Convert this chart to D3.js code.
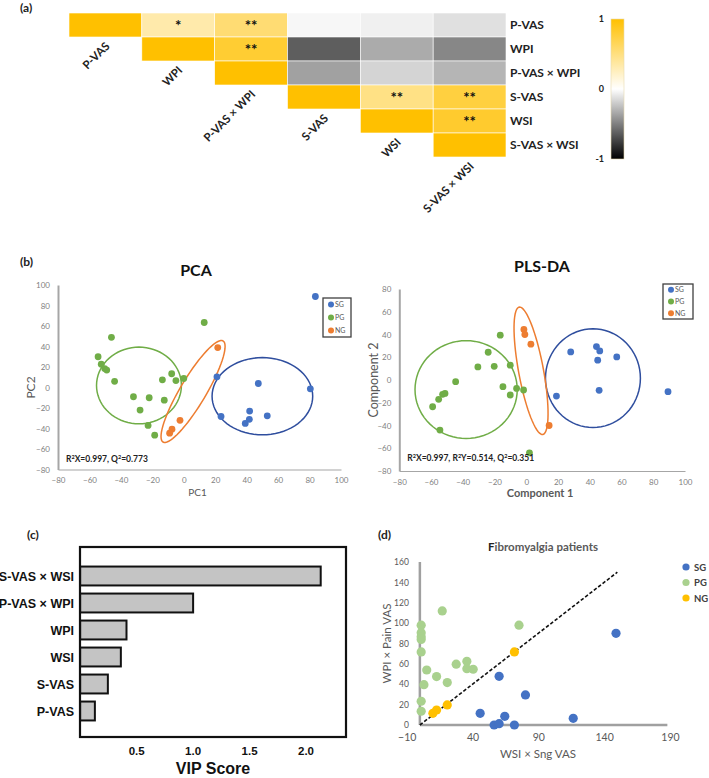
<!DOCTYPE html>
<html>
<head>
<meta charset="utf-8">
<script src="https://cdn.jsdelivr.net/npm/d3@7"></script>
<style>
  body { margin: 0; background: #fff; }
  svg { display: block; }
</style>
</head>
<body>
<div id="fig"></div>
<script>
// ---------- data ----------
var vars = ["P-VAS", "WPI", "P-VAS × WPI", "S-VAS", "WSI", "S-VAS × WSI"];
// upper triangle of correlation matrix (null = not drawn)
var corr = [
    [1, 0.33, 0.55, -0.03, -0.06, -0.12],
    [null, 1, 0.8, -0.63, -0.33, -0.47],
    [null, null, 1, -0.37, -0.17, -0.29],
    [null, null, null, 1, 0.48, 0.75],
    [null, null, null, null, 1, 0.82],
    [null, null, null, null, null, 1]
];
var stars = [
    ["", "*", "**", "", "", ""],
    ["", "", "**", "", "", ""],
    ["", "", "", "", "", ""],
    ["", "", "", "", "**", "**"],
    ["", "", "", "", "", "**"],
    ["", "", "", "", "", ""]
];

var groups = ["SG", "PG", "NG"];

var pcaSG = [[83.7, 88.8], [21.1, 10.4], [47.4, 3.9], [80.5, -1.3], [23.7, -28.3], [41.9, -23], [41.7, -31], [39.1, -35], [53.1, -27.6]];
var pcaPG = [[-46, 49], [-54.5, 30], [-52.5, 22.7], [-50.3, 18.5], [-49, 17], [-44, 6], [-32, -9], [-27.8, -22], [-22, -10], [-22.7, -37], [-18.5, -46.5], [-13.6, 7.5], [-12.4, -12.4], [-7.7, 13.4], [-5, 6.8], [0, 8.8], [13, 63.4]];
var pcaNG = [[21.6, 39], [-2.4, -32], [-7.5, -40.7], [-9, -44.6]];
// ellipses: centre + two half-axis vectors, in data units
var pcaEllipses = [
    {g: "SG", cx: 50, cy: -8.5, ux: 32, uy: 0, vx: 0, vy: 37.7},
    {g: "PG", cx: -28.5, cy: 2, ux: 27, uy: 0, vx: 0, vy: 37.4},
    {g: "NG", cx: 5.9, cy: -3.9, ux: 19.1, uy: 49.3, vx: 7.1, vy: -6.4}
];

var plsSG = [[28, 24.7], [44.2, 29.4], [46.3, 25.6], [45, 17.4], [57, 20.3], [45.9, -9.1], [19, -14.1], [89.3, -10.3]];
var plsPG = [[-16.4, 39.4], [-24, 24.4], [-30.5, 11.5], [-20.2, 12], [-10.1, 13], [-44.5, -1.5], [-14.7, -5.9], [-6.1, -7.4], [-1.7, -8.8], [-10.1, -13.2], [-51.2, -11.8], [-52.7, -12.6], [-55.2, -17], [-59, -23.5], [-54.4, -44], [2, -64]];
var plsNG = [[-1.5, 44.4], [-0.9, 40], [2.9, 31.5], [14.4, -40]];
var plsEllipses = [
    {g: "SG", cx: 42, cy: 1.6, ux: 29.9, uy: 0, vx: 0, vy: 43.4},
    {g: "PG", cx: -37.9, cy: -8.4, ux: 32.2, uy: 0, vx: 0, vy: 43},
    {g: "NG", cx: 3, cy: 8.1, ux: -7.46, uy: 56, vx: 7.7, vy: 2.0}
];

var vipNames = ["S-VAS × WSI", "P-VAS × WPI", "WPI", "WSI", "S-VAS", "P-VAS"];
var vipScores = [2.13, 1.0, 0.41, 0.36, 0.245, 0.13];
var vipTicks = [0.5, 1.0, 1.5, 2.0];

var fmSG = [[149, 90], [60.2, 47.8], [80.2, 29.5], [45.8, 11.5], [64.5, 8.5], [116.5, 6.6], [56.4, 0], [60.2, 1.3], [71.8, 0]];
var fmPG = [[17, 112], [1, 98], [1, 90.6], [1, 86.6], [1, 84], [1, 71.7], [75.3, 98], [5.2, 54], [12.7, 47.5], [3.1, 39.6], [20.8, 41.6], [27.6, 59.7], [35.7, 62.6], [35.7, 55.3], [40.5, 54.7], [1, 23.3], [1, 13.5]];
var fmNG = [[71.8, 71.7], [20.8, 19.7], [12.7, 14.7], [9.9, 11.5]];
var fmLine = [[0, 0], [150, 150]];

var W = 709, H = 778;
var calibri = "Lato, 'Open Sans', sans-serif";
var arial = "'Liberation Sans', Arial, sans-serif";
var grpCol = {SG: "#4472C4", PG: "#70AD47", NG: "#ED7D31"};
var ellCol = {SG: "#2F4E9E", PG: "#70AD47", NG: "#ED7D31"};

var svg = d3.select("#fig").append("svg")
    .attr("width", W)
    .attr("height", H)
    .style("font-family", calibri);

function panelLabel(txt, x, y) {
    svg.append("text")
        .attr("x", x).attr("y", y)
        .style("font-size", "12px")
        .style("font-weight", "bold")
        .style("fill", "#222")
        .text(txt);
}

// ---------- (a) correlation heatmap ----------
panelLabel("(a)", 20, 12);

var hx = d3.scaleBand().domain(d3.range(6)).range([69, 506]);
var hy = d3.scaleBand().domain(d3.range(6)).range([13, 157]);
var heatColor = d3.scaleLinear().domain([-1, 0, 1]).range(["#000000", "#ffffff", "#FFC000"]);

var cells = [];
corr.forEach(function(row, i) {
    row.forEach(function(v, j) {
        if (v !== null) cells.push({i: i, j: j, v: v, s: stars[i][j]});
    });
});

var heat = svg.append("g");
heat.selectAll("rect")
    .data(cells).enter()
    .append("rect")
    .attr("x", function(d) { return hx(d.j); })
    .attr("y", function(d) { return hy(d.i); })
    .attr("width", hx.bandwidth())
    .attr("height", hy.bandwidth())
    .style("fill", function(d) { return heatColor(d.v); })
    .style("stroke", "#fff")
    .style("stroke-width", 0.6);

heat.selectAll(".star")
    .data(cells.filter(function(d) { return d.s; })).enter()
    .append("text")
    .attr("class", "star")
    .attr("x", function(d) { return hx(d.j) + hx.bandwidth() / 2; })
    .attr("y", function(d) { return hy(d.i) + hy.bandwidth() / 2 + 6; })
    .attr("text-anchor", "middle")
    .style("font-size", "15px")
    .style("font-weight", "bold")
    .style("fill", "#111")
    .text(function(d) { return d.s; });

heat.selectAll(".rowlab")
    .data(vars).enter()
    .append("text")
    .attr("class", "rowlab")
    .attr("x", 510)
    .attr("y", function(d, i) { return hy(i) + hy.bandwidth() / 2 + 4; })
    .style("font-size", "12px")
    .style("font-weight", "bold")
    .style("fill", "#222")
    .text(function(d) { return d; });

heat.selectAll(".collab")
    .data(vars).enter()
    .append("text")
    .attr("class", "collab")
    .attr("text-anchor", "end")
    .attr("transform", function(d, i) {
        var cx = hx(i) + hx.bandwidth() / 2 + 5;
        var cy = hy(i) + hy.bandwidth() + 10;
        return "translate(" + cx + "," + cy + ") rotate(-45)";
    })
    .style("font-size", "11.5px")
    .style("font-weight", "bold")
    .style("fill", "#222")
    .text(function(d) { return d; });

// colour bar
var cbY = d3.scaleLinear().domain([-1, 1]).range([159, 19]);
var defs = svg.append("defs");
var grad = defs.append("linearGradient")
    .attr("id", "cbar")
    .attr("x1", 0).attr("y1", 1).attr("x2", 0).attr("y2", 0);
[-1, 0, 1].forEach(function(v) {
    grad.append("stop")
        .attr("offset", ((v + 1) / 2 * 100) + "%")
        .attr("stop-color", heatColor(v));
});
svg.append("rect")
    .attr("x", 611).attr("y", cbY(1))
    .attr("width", 13).attr("height", cbY(-1) - cbY(1))
    .style("fill", "url(#cbar)")
    .style("stroke", "#e6d9b0")
    .style("stroke-width", 0.6);
svg.selectAll(".cbtick")
    .data([1, 0, -1]).enter()
    .append("text")
    .attr("class", "cbtick")
    .attr("x", 604)
    .attr("y", function(d) { return cbY(d) + 3; })
    .attr("text-anchor", "end")
    .style("font-size", "9px")
    .style("font-weight", "bold")
    .style("fill", "#222")
    .text(function(d) { return d; });

// ---------- (b) score plots ----------
panelLabel("(b)", 20, 266);

function ellipsePath(e, x, y) {
    var pts = d3.range(0, 73).map(function(k) {
        var t = k / 72 * 2 * Math.PI;
        return [x(e.cx + e.ux * Math.cos(t) + e.vx * Math.sin(t)),
                y(e.cy + e.uy * Math.cos(t) + e.vy * Math.sin(t))];
    });
    return d3.line().curve(d3.curveLinearClosed)(pts);
}

function scorePlot(opt) {
    var g = svg.append("g");
    var x = d3.scaleLinear().domain([-80, 100]).range(opt.xr);
    var y = d3.scaleLinear().domain(opt.yd).range(opt.yr);

    g.append("g")
        .attr("transform", "translate(0," + opt.yr[0] + ")")
        .call(d3.axisBottom(x).tickValues(d3.range(-80, 101, 20)).tickSize(0).tickPadding(8))
        .call(function(a) {
            a.select(".domain").style("stroke", "#a6a6a6").style("stroke-width", 1.2);
            a.selectAll("text").style("font-family", calibri).style("font-size", "8px").style("fill", "#7f7f7f");
        });
    g.append("g")
        .attr("transform", "translate(" + opt.xr[0] + ",0)")
        .call(d3.axisLeft(y).tickValues(d3.range(opt.yd[0], opt.yd[1] + 1, 20)).tickSize(0).tickPadding(8))
        .call(function(a) {
            a.select(".domain").style("stroke", "#a6a6a6").style("stroke-width", 2);
            a.selectAll("text").style("font-family", calibri).style("font-size", "8px").style("fill", "#7f7f7f");
        });

    g.selectAll(".ell")
        .data(opt.ellipses).enter()
        .append("path")
        .attr("d", function(e) { return ellipsePath(e, x, y); })
        .style("fill", "none")
        .style("stroke", function(e) { return ellCol[e.g]; })
        .style("stroke-width", 1.5);

    var pts = [];
    opt.series.forEach(function(s, k) {
        s.forEach(function(p) { pts.push({g: groups[k], x: p[0], y: p[1]}); });
    });
    g.selectAll(".pt")
        .data(pts).enter()
        .append("circle")
        .attr("cx", function(d) { return x(d.x); })
        .attr("cy", function(d) { return y(d.y); })
        .attr("r", 3.4)
        .style("fill", function(d) { return grpCol[d.g]; });

    // title
    g.append("text")
        .attr("x", opt.titleX).attr("y", opt.titleY)
        .attr("text-anchor", "middle")
        .style("font-size", "16px")
        .style("font-weight", "bold")
        .style("fill", "#111")
        .text(opt.title);
    // axis titles
    g.append("text")
        .attr("x", (opt.xr[0] + opt.xr[1]) / 2 - 2).attr("y", opt.yr[0] + 26)
        .attr("text-anchor", "middle")
        .style("font-size", opt.xlabSize)
        .style("font-weight", opt.xlabWeight)
        .style("fill", "#595959")
        .text(opt.xlab);
    g.append("text")
        .attr("transform", "translate(" + opt.ylabX + "," + y(0) + ") rotate(-90)")
        .attr("text-anchor", "middle")
        .style("font-size", opt.ylabSize)
        .style("fill", "#595959")
        .text(opt.ylab);

    // fit statistics
    var st = g.append("text")
        .attr("x", opt.xr[0] + 8).attr("y", opt.statY)
        .style("font-size", "8.5px")
        .style("font-weight", "bold")
        .style("fill", "#222");
    opt.stats.forEach(function(s, k) {
        st.append("tspan").text((k ? ", " : "") + s[0]);
        st.append("tspan").attr("dy", -3).style("font-size", "5.5px").text("2");
        st.append("tspan").attr("dy", 3).text(s[1] + "=" + s[2]);
    });

    // legend
    var lg = g.append("g").attr("transform", "translate(" + opt.legX + "," + opt.legY + ")");
    lg.append("rect")
        .attr("width", opt.legW).attr("height", opt.legH)
        .style("fill", "#fff")
        .style("stroke", "#404040")
        .style("stroke-width", 1.3);
    lg.selectAll(".lgi")
        .data(groups).enter()
        .append("circle")
        .attr("cx", 8)
        .attr("cy", function(d, i) { return opt.legH / 6 + i * opt.legH / 3; })
        .attr("r", 3)
        .style("fill", function(d) { return grpCol[d]; });
    lg.selectAll(".lgt")
        .data(groups).enter()
        .append("text")
        .attr("x", 12)
        .attr("y", function(d, i) { return opt.legH / 6 + i * opt.legH / 3 + 2.5; })
        .style("font-size", "7px")
        .style("fill", "#595959")
        .text(function(d) { return d; });
}

scorePlot({
    xr: [58, 341], yd: [-80, 100], yr: [469.5, 285],
    series: [pcaSG, pcaPG, pcaNG], ellipses: pcaEllipses,
    title: "PCA", titleX: 196, titleY: 276,
    xlab: "PC1", xlabSize: "10px", xlabWeight: "normal",
    ylab: "PC2", ylabX: 35, ylabSize: "12px",
    stats: [["R", "X", "0.997"], ["Q", "", "0.773"]], statY: 462,
    legX: 323, legY: 298, legW: 28, legH: 39
});
scorePlot({
    xr: [399.3, 685], yd: [-80, 80], yr: [471, 289],
    series: [plsSG, plsPG, plsNG], ellipses: plsEllipses,
    title: "PLS-DA", titleX: 542, titleY: 272,
    xlab: "Component 1", xlabSize: "11px", xlabWeight: "bold",
    ylab: "Component 2", ylabX: 378, ylabSize: "12.5px",
    stats: [["R", "X", "0.997"], ["R", "Y", "0.514"], ["Q", "", "0.351"]], statY: 461,
    legX: 663, legY: 284, legW: 30, legH: 35
});

// ---------- (c) VIP scores ----------
panelLabel("(c)", 27, 539);

var vx = d3.scaleLinear().domain([0, 2.354]).range([80.2, 346]);
var vy = d3.scaleBand().domain(vipNames).range([562.5, 724.5]).paddingInner(0.3).paddingOuter(0.15);

var vip = svg.append("g").style("font-family", arial);
vip.append("rect")
    .attr("x", 80).attr("y", 547)
    .attr("width", 266).attr("height", 190)
    .style("fill", "none")
    .style("stroke", "#111")
    .style("stroke-width", 2.2);
vip.selectAll(".bar")
    .data(vipScores).enter()
    .append("rect")
    .attr("x", vx(0))
    .attr("y", function(d, i) { return vy(vipNames[i]); })
    .attr("width", function(d) { return vx(d) - vx(0); })
    .attr("height", vy.bandwidth())
    .style("fill", "#c4c4c4")
    .style("stroke", "#111")
    .style("stroke-width", 2);
vip.selectAll(".vlab")
    .data(vipNames).enter()
    .append("text")
    .attr("x", 74)
    .attr("y", function(d) { return vy(d) + vy.bandwidth() / 2 + 4.5; })
    .attr("text-anchor", "end")
    .style("font-size", "12.5px")
    .style("font-weight", "bold")
    .style("fill", "#111")
    .text(function(d) { return d; });
vip.selectAll(".vtick")
    .data(vipTicks).enter()
    .append("text")
    .attr("x", function(d) { return vx(d); })
    .attr("y", 755)
    .attr("text-anchor", "middle")
    .style("font-size", "11.5px")
    .style("font-weight", "bold")
    .style("fill", "#111")
    .text(function(d) { return d.toFixed(1); });
vip.append("text")
    .attr("x", 213).attr("y", 774)
    .attr("text-anchor", "middle")
    .style("font-size", "16px")
    .style("font-weight", "bold")
    .style("fill", "#111")
    .text("VIP Score");

// ---------- (d) fibromyalgia scatter ----------
panelLabel("(d)", 378, 539);

var fx = d3.scaleLinear().domain([-10, 190]).range([406.7, 670]);
var fy = d3.scaleLinear().domain([0, 160]).range([725, 562]);
var fmCol = {SG: "#4472C4", PG: "#A9D18E", NG: "#FFC000"};

var fm = svg.append("g");
fm.append("text")
    .attr("x", 543).attr("y", 551)
    .attr("text-anchor", "middle")
    .style("font-size", "11.5px")
    .style("font-weight", "bold")
    .style("fill", "#595959")
    .call(function(t) {
        t.append("tspan").style("fill", "#222").text("F");
        t.append("tspan").text("ibromyalgia patients");
    });

fm.append("g")
    .attr("transform", "translate(0," + fy(0) + ")")
    .call(d3.axisBottom(fx).tickValues([-10, 40, 90, 140, 190]).tickSize(0).tickPadding(9))
    .call(function(a) {
        a.select(".domain").remove();
        a.selectAll("text").style("font-family", calibri).style("font-size", "10.5px").style("fill", "#595959");
    });
fm.append("g")
    .attr("transform", "translate(" + fx(0) + ",0)")
    .call(d3.axisLeft(fy).tickValues(d3.range(0, 161, 20)).tickSize(0).tickPadding(11))
    .call(function(a) {
        a.select(".domain").remove();
        a.selectAll("text").style("font-family", calibri).style("font-size", "8.5px").style("fill", "#595959");
    });
fm.append("line")
    .attr("x1", fx(0)).attr("x2", fx(188))
    .attr("y1", fy(0)).attr("y2", fy(0))
    .style("stroke", "#a0a0a0").style("stroke-width", 2.5);
fm.append("line")
    .attr("x1", fx(0)).attr("x2", fx(0))
    .attr("y1", fy(0)).attr("y2", fy(160))
    .style("stroke", "#a0a0a0").style("stroke-width", 2.5);

fm.append("path")
    .attr("d", d3.line().x(function(d) { return fx(d[0]); }).y(function(d) { return fy(d[1]); })(fmLine))
    .style("stroke", "#111")
    .style("stroke-width", 1.6)
    .style("stroke-dasharray", "3.5,2")
    .style("fill", "none");

var fpts = [];
[fmSG, fmPG, fmNG].forEach(function(s, k) {
    s.forEach(function(p) { fpts.push({g: groups[k], x: p[0], y: p[1]}); });
});
fm.selectAll(".fp")
    .data(fpts).enter()
    .append("circle")
    .attr("cx", function(d) { return fx(d.x); })
    .attr("cy", function(d) { return fy(d.y); })
    .attr("r", 4.6)
    .style("fill", function(d) { return fmCol[d.g]; });

fm.append("text")
    .attr("x", 538).attr("y", 758)
    .attr("text-anchor", "middle")
    .style("font-size", "11.5px")
    .style("fill", "#595959")
    .text("WSI × Sng VAS");
fm.append("text")
    .attr("transform", "translate(391," + fy(80) + ") rotate(-90)")
    .attr("text-anchor", "middle")
    .style("font-size", "11.5px")
    .style("fill", "#595959")
    .text("WPI × Pain VAS");

fm.selectAll(".fl")
    .data(groups).enter()
    .append("circle")
    .attr("cx", 686)
    .attr("cy", function(d, i) { return 567 + i * 15.5; })
    .attr("r", 3.6)
    .style("fill", function(d) { return fmCol[d]; });
fm.selectAll(".ft")
    .data(groups).enter()
    .append("text")
    .attr("x", 694)
    .attr("y", function(d, i) { return 567 + i * 15.5 + 3.5; })
    .style("font-size", "9.5px")
    .style("font-weight", "bold")
    .style("fill", "#404040")
    .text(function(d) { return d; });
</script>
</body>
</html>
